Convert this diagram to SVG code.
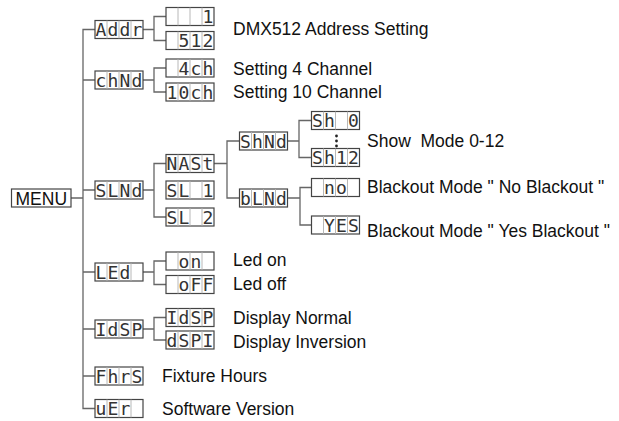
<svg xmlns="http://www.w3.org/2000/svg" xmlns:xlink="http://www.w3.org/1999/xlink" width="619" height="421" viewBox="0 0 619 421">
<style>
.box{fill:#fff;stroke:#444;stroke-width:1.2}
.div{fill:none;stroke:#b0b0b0;stroke-width:0.9}
.seg{font-family:"DejaVu Sans Mono","Liberation Mono",monospace;font-size:18px;fill:#333;text-anchor:middle}
.lbl{font-family:"Liberation Sans",Arial,sans-serif;font-size:17.5px;fill:#111}
.con{fill:none;stroke:#666;stroke-width:1.3}
</style>
<defs>
<g id="frame"><rect x="0" y="0" width="48" height="18" class="box"/><path d="M12,0V18M24,0V18M36,0V18" class="div"/></g>
</defs>
<rect width="619" height="421" fill="#fff"/>
<g id="connectors">
<path class="con" d="M71,198H83M95,29.5H83V408.5H95M83,80H95M83,190H95M83,272H95M83,329H95M83,376H95"/>
<path class="con" d="M143,29.5H154M166,16.5H154V40.5H166"/>
<path class="con" d="M143,80H154M166,68H154V92H166"/>
<path class="con" d="M143,190H154M166,163.5H154V217H166"/>
<path class="con" d="M143,272H154M166,261H154V284.5H166"/>
<path class="con" d="M143,329H154M166,317.5H154V340H166"/>
<path class="con" d="M214,163.5H227M239.5,141H227V198H239.5"/>
<path class="con" d="M287.5,141H299M311.5,120.5H299V157.5H311.5"/>
<path class="con" d="M287.5,198H300M311.5,187.5H300V225H311.5"/>
</g>
<g id="menu"><rect x="11.5" y="189" width="59.5" height="18" class="box"/><text class="lbl" x="15.5" y="204.5">MENU</text></g>
<g id="addr"><use xlink:href="#frame" x="95" y="20.5"/><text class="seg" x="101 113 125 137" y="36">Addr</text></g>
<g id="addr-1"><use xlink:href="#frame" x="166" y="7.5"/><text class="seg" x="208" y="23">1</text></g>
<g id="addr-512"><use xlink:href="#frame" x="166" y="31.5"/><text class="seg" x="184 196 208" y="47">512</text></g>
<g id="addr-label"><text class="lbl" x="233" y="34.5">DMX512 Address Setting</text></g>
<g id="chnd"><use xlink:href="#frame" x="95" y="71"/><text class="seg" x="101 113 125 137" y="86.5">chNd</text></g>
<g id="ch4"><use xlink:href="#frame" x="166" y="59"/><text class="seg" x="184 196 208" y="74.5">4ch</text></g>
<g id="ch10"><use xlink:href="#frame" x="166" y="83"/><text class="seg" x="172 184 196 208" y="98.5">10ch</text></g>
<g id="ch-labels"><text class="lbl" x="233" y="74.5">Setting 4 Channel</text><text class="lbl" x="233" y="98">Setting 10 Channel</text></g>
<g id="slnd"><use xlink:href="#frame" x="95" y="181"/><text class="seg" x="101 113 125 137" y="196.5">SLNd</text></g>
<g id="nast"><use xlink:href="#frame" x="166" y="154.5"/><text class="seg" x="172 184 196 208" y="170">NASt</text></g>
<g id="sl1"><use xlink:href="#frame" x="166" y="181"/><text class="seg" x="172 184 208" y="196.5">SL1</text></g>
<g id="sl2"><use xlink:href="#frame" x="166" y="208"/><text class="seg" x="172 184 208" y="223.5">SL2</text></g>
<g id="shnd"><use xlink:href="#frame" x="239.5" y="132"/><text class="seg" x="245.5 257.5 269.5 281.5" y="147.5">ShNd</text></g>
<g id="sh0"><use xlink:href="#frame" x="311.5" y="111.5"/><text class="seg" x="317.5 329.5 353.5" y="127">Sh0</text></g>
<g id="dots"><circle cx="336.5" cy="136" r="1.4" fill="#222"/><circle cx="336.5" cy="141" r="1.4" fill="#222"/><circle cx="336.5" cy="146" r="1.4" fill="#222"/></g>
<g id="sh12"><use xlink:href="#frame" x="311.5" y="148.5"/><text class="seg" x="317.5 329.5 341.5 353.5" y="164">Sh12</text></g>
<g id="show-label"><text class="lbl" x="367" y="146.5">Show&#160; Mode 0-12</text></g>
<g id="blnd"><use xlink:href="#frame" x="239.5" y="189"/><text class="seg" x="245.5 257.5 269.5 281.5" y="204.5">bLNd</text></g>
<g id="no"><use xlink:href="#frame" x="311.5" y="178.5"/><text class="seg" x="329.5 341.5" y="194">no</text></g>
<g id="yes"><use xlink:href="#frame" x="311.5" y="216"/><text class="seg" x="329.5 341.5 353.5" y="231.5">YES</text></g>
<g id="blackout-labels"><text class="lbl" x="367" y="193">Blackout Mode " No Blackout "</text><text class="lbl" x="367" y="237">Blackout Mode " Yes Blackout "</text></g>
<g id="led"><use xlink:href="#frame" x="95" y="263"/><text class="seg" x="101 113 125" y="278.5">LEd</text></g>
<g id="on"><use xlink:href="#frame" x="166" y="252"/><text class="seg" x="184 196" y="267.5">on</text></g>
<g id="off"><use xlink:href="#frame" x="166" y="275.5"/><text class="seg" x="184 196 208" y="291">oFF</text></g>
<g id="led-labels"><text class="lbl" x="233" y="266">Led on</text><text class="lbl" x="233" y="290">Led off</text></g>
<g id="idsp"><use xlink:href="#frame" x="95" y="320"/><text class="seg" x="101 113 125 137" y="335.5">IdSP</text></g>
<g id="idsp-normal"><use xlink:href="#frame" x="166" y="308.5"/><text class="seg" x="172 184 196 208" y="324">IdSP</text></g>
<g id="dspi"><use xlink:href="#frame" x="166" y="331"/><text class="seg" x="172 184 196 208" y="346.5">dSPI</text></g>
<g id="display-labels"><text class="lbl" x="233" y="324">Display Normal</text><text class="lbl" x="233" y="347.5">Display Inversion</text></g>
<g id="fhrs"><use xlink:href="#frame" x="95" y="367"/><text class="seg" x="101 113 125 137" y="382.5">FhrS</text><text class="lbl" x="162" y="382">Fixture Hours</text></g>
<g id="uer"><use xlink:href="#frame" x="95" y="399.5"/><text class="seg" x="101 113 125" y="415">uEr</text><text class="lbl" x="162" y="415">Software Version</text></g>
</svg>
